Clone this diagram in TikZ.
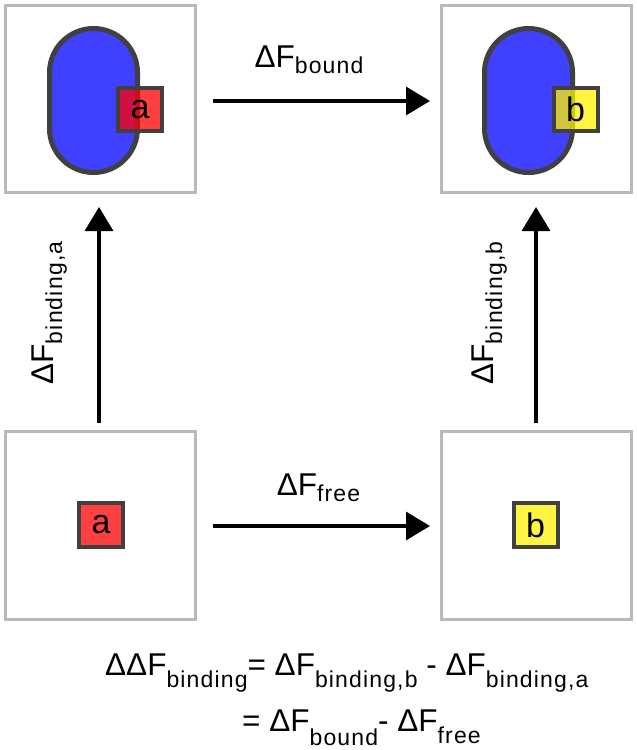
\documentclass[tikz,border=0pt]{standalone}
\usepackage{fontspec}
\setmainfont{Liberation Sans}
\usetikzlibrary{arrows.meta,calc}
\definecolor{framegray}{RGB}{185,185,185}
\definecolor{darkline}{RGB}{64,64,64}
\definecolor{blobblue}{RGB}{64,64,255}
\newcommand\sbs[2][7]{\raisebox{-#1pt}{\fontsize{23}{23}\selectfont\addfontfeature{LetterSpace=5}#2}}
\newcommand\mainsz{\fontsize{31.5}{31.5}\selectfont}
\begin{document}
\begin{tikzpicture}[x=1pt,y=-1pt,
  frame/.style={draw=framegray,line width=3pt,minimum width=190pt,minimum height=187pt,inner sep=0pt},
  capsule/.style={draw=darkline,line width=5pt,fill=blobblue},
  ligand/.style={draw=darkline,line width=4pt,minimum width=44pt,minimum height=43pt,inner sep=0pt,
    fill opacity=0.75,draw opacity=1,text opacity=1,font=\fontsize{34}{34}\selectfont},
  arr/.style={line width=3.3pt,-{Triangle[length=24pt,width=28pt]}},
  lbl/.style={inner sep=0pt,font=\mainsz}
]
\useasboundingbox (0,0) rectangle (637,750);
% frames
\node[frame] (TL) at (100.5,99) {};
\node[frame] (TR) at (536,99) {};
\node[frame,minimum height=188pt] (BL) at (100.5,525.5) {};
\node[frame,minimum height=188pt] (BR) at (536.5,525.5) {};
% capsules (receptor)
\draw[capsule] (49.5,72.5) arc[start angle=180,end angle=360,radius=44]
  -- (137.5,128.5) arc[start angle=0,end angle=180,radius=44] -- cycle;
\draw[capsule] (484.5,72.5) arc[start angle=180,end angle=360,radius=44]
  -- (572.5,128.5) arc[start angle=0,end angle=180,radius=44] -- cycle;
% ligands
\node[ligand,fill=red] (aT) at (140,109.5) {a};
\node[ligand,fill=yellow] (bT) at (575.5,109.5) {b};
\node[ligand,fill=red,minimum height=44pt] (aB) at (101,525) {a};
\node[ligand,fill=yellow,minimum height=44pt] (bB) at (535.5,525) {b};
% arrows
\draw[arr] ($(TL.east)+(16,2)$) -- ($(TR.west)+(-9.5,2)$);
\draw[arr] ($(BL.east)+(16,0.5)$) -- ($(BR.west)+(-10,0.5)$);
\draw[arr] ($(BL.north)+(-1.5,-7)$) -- ($(TL.south)+(-1.5,13)$);
\draw[arr] ($(BR.north)+(-0.5,-7)$) -- ($(TR.south)+(0,13)$);
% labels
\node[lbl,anchor=base] (lbound) at (309,67) {ΔF\sbs[6]{bound}};
\node[lbl,anchor=base] (lfree) at (318.5,495) {ΔF\sbs[6]{free}};
\node[lbl,anchor=base,rotate=90] (lbinda) at (53,313) {ΔF\sbs[9]{binding,a}};
\node[lbl,anchor=base,rotate=90] (lbindb) at (493,313) {ΔF\sbs[9]{binding,b}};
% equation
\node[lbl,anchor=base west] (eq1) at (105,675) {ΔΔF\sbs[12]{binding}= ΔF\sbs[12]{binding,b} - ΔF\sbs[12]{binding,a}};
\node[lbl,anchor=base west] (eq2) at (242,731) {= ΔF\sbs[14]{bound}- ΔF\sbs[12]{free}};
\end{tikzpicture}
\end{document}
